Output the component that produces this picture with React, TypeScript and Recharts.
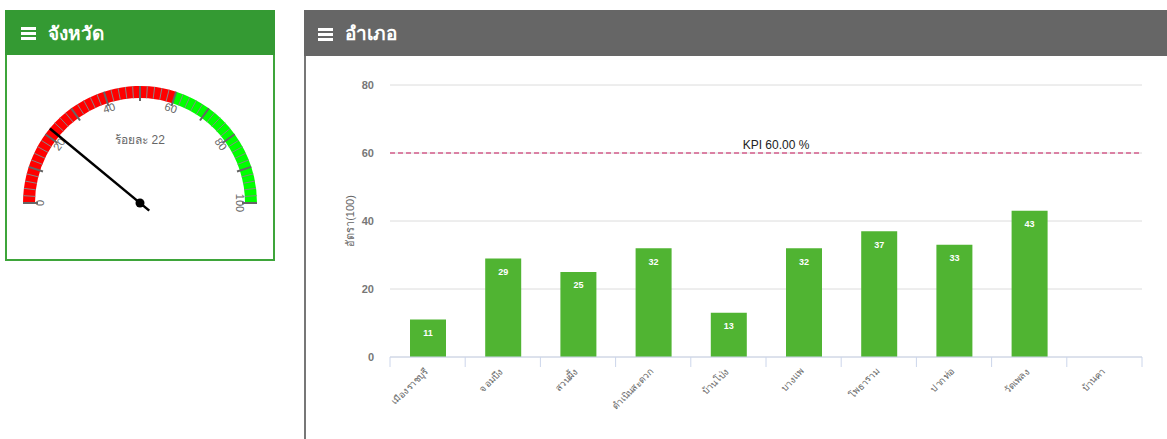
import {
  BarChart, Bar, XAxis, YAxis, CartesianGrid, ReferenceLine, LabelList,
  RadialBarChart, RadialBar, PolarAngleAxis, PieChart, Pie,
} from 'recharts'

// --- district bar chart (อำเภอ) ---
const districts = ['เมืองราชบุรี', 'จอมบึง', 'สวนผึ้ง', 'ดำเนินสะดวก', 'บ้านโป่ง', 'บางแพ', 'โพธาราม', 'ปากท่อ', 'วัดเพลง', 'บ้านคา']
const rates = [11, 29, 25, 32, 13, 32, 37, 33, 43, null]
const yTicks = [0, 20, 40, 60, 80]
const kpi = 60

// --- province gauge (จังหวัด) ---
const provinceRate = 22
const gaugeBands = [{ name: 'จังหวัด', low: 60, high: 40 }] // red below KPI, green above
const gaugeTicks = [
  0, 2, 4, 6, 8, 10, 12, 14, 16, 18, 20, 22, 24, 26, 28, 30, 32, 34, 36, 38, 40,
  42, 44, 46, 48, 50, 52, 54, 56, 58, 60, 62, 64, 66, 68, 70, 72, 74, 76, 78, 80,
  82, 84, 86, 88, 90, 92, 94, 96, 98, 100,
]

const chartData = districts.map((name, i) => ({ name, rate: rates[i] }))
const needleData = [{ name: 'ร้อยละ', value: provinceRate }, { name: 'rest', value: 100 - provinceRate }]

const FONT = '"Liberation Sans", Arial, "Noto Sans", sans-serif'
const NO_MARGIN = { top: 0, right: 0, bottom: 0, left: 0 }
const G_W = 266
const G_H = 200
const G_CX = 134
const G_CY = 147
const G_OUTER = 117
const G_INNER = 105
const G_LABEL_R = 100

const RAD = Math.PI / 180
const polar = (cx: number, cy: number, r: number, angle: number) => ({
  x: cx + Math.cos(-angle * RAD) * r,
  y: cy + Math.sin(-angle * RAD) * r,
})

function GaugeTick(props: any) {
  const { payload } = props
  const cx = props.cx ?? G_CX
  const cy = props.cy ?? G_CY
  const angle = payload.coordinate
  const v = payload.value
  const major = v % 10 === 0
  const a = polar(cx, cy, G_OUTER, angle)
  const b = polar(cx, cy, major ? G_INNER - 3 : G_INNER, angle)
  const l = polar(cx, cy, G_LABEL_R, angle)
  return (
    <g>
      <line x1={a.x} y1={a.y} x2={b.x} y2={b.y} stroke={major ? '#666' : '#888'} strokeWidth={major ? 2 : 1} />
      {v % 20 === 0 && (
        <text
          x={l.x} y={l.y} textAnchor="middle" dominantBaseline="central"
          transform={`rotate(${90 - angle} ${l.x} ${l.y})`}
          fontSize={11} fill="#666" fontFamily={FONT}
        >
          {v}
        </text>
      )}
    </g>
  )
}

function Needle(props: any) {
  if (props.index !== 0) return null
  const { cx, cy } = props
  const angle = props.endAngle
  const tip = polar(cx, cy, G_OUTER, angle)
  const tail = polar(cx, cy, 12, angle + 180)
  return (
    <g>
      <line x1={tail.x} y1={tail.y} x2={tip.x} y2={tip.y} stroke="#000" strokeWidth={2.5} />
      <circle cx={cx} cy={cy} r={4.5} fill="#000" />
    </g>
  )
}

function DistrictTick(props: any) {
  const { x, y, payload, index } = props
  const half = payload.offset ?? 0
  const last = index === districts.length - 1
  return (
    <g>
      <line x1={x - half} x2={x - half} y1={y} y2={y + 10} stroke="#ccd6eb" />
      {last && <line x1={x + half} x2={x + half} y1={y} y2={y + 10} stroke="#ccd6eb" />}
      <text
        x={x + 1} y={y + 15} textAnchor="end"
        transform={`rotate(-45 ${x + 1} ${y + 15})`}
        fontSize={9.5} fill="#666" fontFamily={FONT}
      >
        {payload.value}
      </text>
    </g>
  )
}

function MenuIcon() {
  const bar = { display: 'block', width: 15, height: 3, background: '#fff', marginBottom: 2 }
  return (
    <span style={{ display: 'inline-block', marginRight: 12, verticalAlign: 'middle', paddingTop: 2 }}>
      <span style={bar} />
      <span style={bar} />
      <span style={{ ...bar, marginBottom: 0 }} />
    </span>
  )
}

const headerText = {
  color: '#fff', fontWeight: 'bold' as const, fontSize: 19, fontFamily: FONT,
  display: 'flex', alignItems: 'center', paddingLeft: 14, boxSizing: 'border-box' as const,
}

export default function App() {
  return (
    <div style={{ position: 'absolute', left: 0, top: 0, width: 1167, height: 439, overflow: 'hidden', background: '#fff' }}>
      {/* province card */}
      <div style={{ position: 'absolute', left: 5, top: 10, width: 270, height: 251, border: '2px solid #3ea53a', boxSizing: 'border-box' }}>
        <div style={{ ...headerText, height: 45, margin: -2, marginBottom: 0, background: '#349a33', paddingLeft: 16 }}>
          <MenuIcon />
          จังหวัด
        </div>
      </div>
      <div style={{ position: 'absolute', left: 6, top: 56, width: G_W, height: G_H }}>
        <RadialBarChart
          width={G_W} height={G_H} cx={G_CX} cy={G_CY} margin={NO_MARGIN}
          innerRadius={G_INNER} outerRadius={G_OUTER}
          startAngle={180} endAngle={0} barCategoryGap={0}
          data={gaugeBands}
        >
          <RadialBar dataKey="low" stackId="g" fill="#ff0000" isAnimationActive={false} />
          <RadialBar dataKey="high" stackId="g" fill="#00ff00" isAnimationActive={false} />
          <PolarAngleAxis
            type="number" domain={[0, 100]} ticks={gaugeTicks} allowDataOverflow
            tick={GaugeTick} tickLine={false} axisLine={false}
          />
        </RadialBarChart>
        <div style={{ position: 'absolute', left: 0, top: 0 }}>
          <PieChart width={G_W} height={G_H} margin={NO_MARGIN}>
            <Pie
              data={needleData} dataKey="value" cx={G_CX} cy={G_CY}
              innerRadius={0} outerRadius={G_OUTER} startAngle={180} endAngle={0}
              fill="none" stroke="none" label={Needle} labelLine={false}
              isAnimationActive={false}
            />
          </PieChart>
        </div>
        <div style={{ position: 'absolute', left: 0, width: 268, top: 74, textAlign: 'center', fontSize: 12, color: '#666', fontFamily: FONT }}>
          ร้อยละ {provinceRate}
        </div>
      </div>

      {/* district panel */}
      <div style={{ position: 'absolute', left: 304, top: 10, width: 880, height: 440, borderLeft: '2px solid #777', boxSizing: 'border-box' }}>
        <div style={{ ...headerText, height: 46, background: '#666', marginLeft: -2 }}>
          <MenuIcon />
          อำเภอ
        </div>
      </div>
      <div style={{ position: 'absolute', left: 304, top: 56 }}>
        <BarChart width={857} height={383} data={chartData} margin={{ top: 29, right: 19, left: 46, bottom: 22 }}>
          <CartesianGrid vertical={false} stroke="#dcdcdc" />
          <XAxis
            dataKey="name" interval={0} height={60} tickSize={0} tickMargin={0}
            tickLine={false} axisLine={{ stroke: '#ccd6eb' }} tick={DistrictTick}
          />
          <YAxis
            domain={[0, 80]} ticks={yTicks} width={40} axisLine={false} tickLine={false}
            tickSize={8} tickMargin={8}
            tick={{ fontSize: 11, fill: '#777', fontWeight: 'bold', fontFamily: FONT }}
            label={{ value: 'อัตรา(100)', angle: -90, position: 'insideLeft', offset: 0, style: { textAnchor: 'middle', fontSize: 11, fill: '#666', fontFamily: FONT } }}
          />
          <Bar dataKey="rate" fill="#50b432" barSize={36} isAnimationActive={false}>
            <LabelList dataKey="rate" position="insideTop" offset={10} fill="#fff" fontSize={9} fontWeight="bold" fontFamily={FONT} />
          </Bar>
          <ReferenceLine
            y={kpi} stroke="#c8155a" strokeDasharray="5 3"
            label={{ value: 'KPI 60.00 %', position: 'top', offset: 4, dx: 10, fontSize: 12, fill: '#222', fontFamily: FONT }}
          />
        </BarChart>
      </div>
    </div>
  )
}
